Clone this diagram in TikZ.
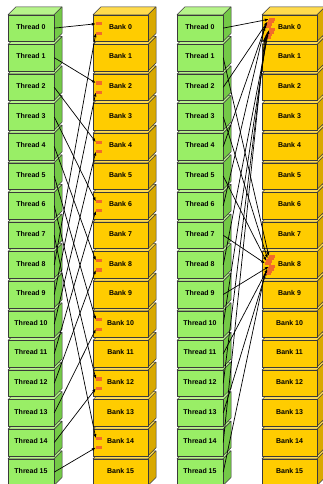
\documentclass[tikz,border=0pt]{standalone}
\usepackage{fontspec}
\setmainfont{Liberation Sans}
\usetikzlibrary{arrows.meta}
\definecolor{gfront}{HTML}{99EE66}
\definecolor{gtop}{HTML}{B6F48A}
\definecolor{gside}{HTML}{74C947}
\definecolor{yfront}{HTML}{FFCC00}
\definecolor{ytop}{HTML}{FFDB4D}
\definecolor{yside}{HTML}{D9A900}
\definecolor{mark}{HTML}{F26B2A}
\definecolor{edge}{HTML}{3A3A3A}
\tikzset{
  face/.style={draw=edge,line width=0.5pt,line join=round},
  threadbox/.style={face,fill=gfront,minimum width=46pt,minimum height=26.6pt,inner sep=0pt,font=\bfseries\fontsize{7}{8}\selectfont},
  bankbox/.style={face,fill=yfront,minimum width=55pt,minimum height=26.6pt,inner sep=0pt,font=\bfseries\fontsize{7}{8}\selectfont},
  marker/.style={fill=mark,minimum width=6pt,minimum height=3.2pt,inner sep=0pt},
  arr/.style={line width=0.7pt,-{Latex[length=4pt,width=3pt]}}
}
\begin{document}
\begin{tikzpicture}[x=1pt,y=-1pt]
\useasboundingbox (0,0) rectangle (323,484);
\fill[white] (0,0) rectangle (323,484);
\clip (0,0) rectangle (323,484);
\foreach \i in {15,14,...,0}{
  \pgfmathsetmacro\yt{14.8+29.6*\i}
  \foreach \px/\pn in {0/L,169/R}{
    \pgfmathsetmacro\xa{8+\px}
    \pgfmathsetmacro\xb{93+\px}
    % thread
    \filldraw[face,fill=gside] (\xa+46,\yt) -- ++(8,-8) -- ++(0,26.6) -- ++(-8,8) -- cycle;
    \filldraw[face,fill=gtop] (\xa,\yt) -- ++(8,-8) -- ++(46,0) -- ++(-8,8) -- cycle;
    \node[threadbox] (\pn t\i) at (\xa+23,\yt+13.3) {\raisebox{2.5pt}{Thread \i}};
    % bank
    \filldraw[face,fill=yside] (\xb+55,\yt) -- ++(8,-8) -- ++(0,26.6) -- ++(-8,8) -- cycle;
    \filldraw[face,fill=ytop] (\xb,\yt) -- ++(8,-8) -- ++(55,0) -- ++(-8,8) -- cycle;
    \node[bankbox] (\pn b\i) at (\xb+27.5,\yt+13.3) {\raisebox{2.5pt}{Bank \i}};
  }
}
% left markers: banks 0,2,...,14, two each
\foreach \b in {0,2,...,14}{
  \pgfmathsetmacro\yb{14.8+29.6*\b}
  \node[marker] (Lm\b a) at (99,\yb+9) {};
  \node[marker] (Lm\b b) at (99,\yb+18.4) {};
}
% right markers: banks 0 and 8, eight each
\foreach \b in {0,8}{
  \pgfmathsetmacro\yb{14.8+29.6*\b}
  \foreach \k in {0,...,7}{
    \pgfmathsetmacro\c{int(\k/4)}
    \pgfmathsetmacro\j{mod(\k,4)}
    \node[marker] (Rm\b k\k) at (272-1.3*\j,\yb+4.5+2.4*\j+10.5*\c) {};
  }
}
% left arrows: stride 2
\foreach \t in {0,...,15}{
  \pgfmathtruncatemacro\b{mod(2*\t,16)}
  \ifnum\t<8
    \draw[arr] (Lt\t.east) -- (Lm\b a.west);
  \else
    \draw[arr] (Lt\t.east) -- (Lm\b b.west);
  \fi
}
% right arrows: stride 8
\foreach \t in {0,...,15}{
  \pgfmathtruncatemacro\k{int(\t/2)}
  \ifodd\t
    \draw[arr] (Rt\t.east) -- (Rm8k\k.west);
  \else
    \draw[arr] (Rt\t.east) -- (Rm0k\k.west);
  \fi
}
\end{tikzpicture}
\end{document}
